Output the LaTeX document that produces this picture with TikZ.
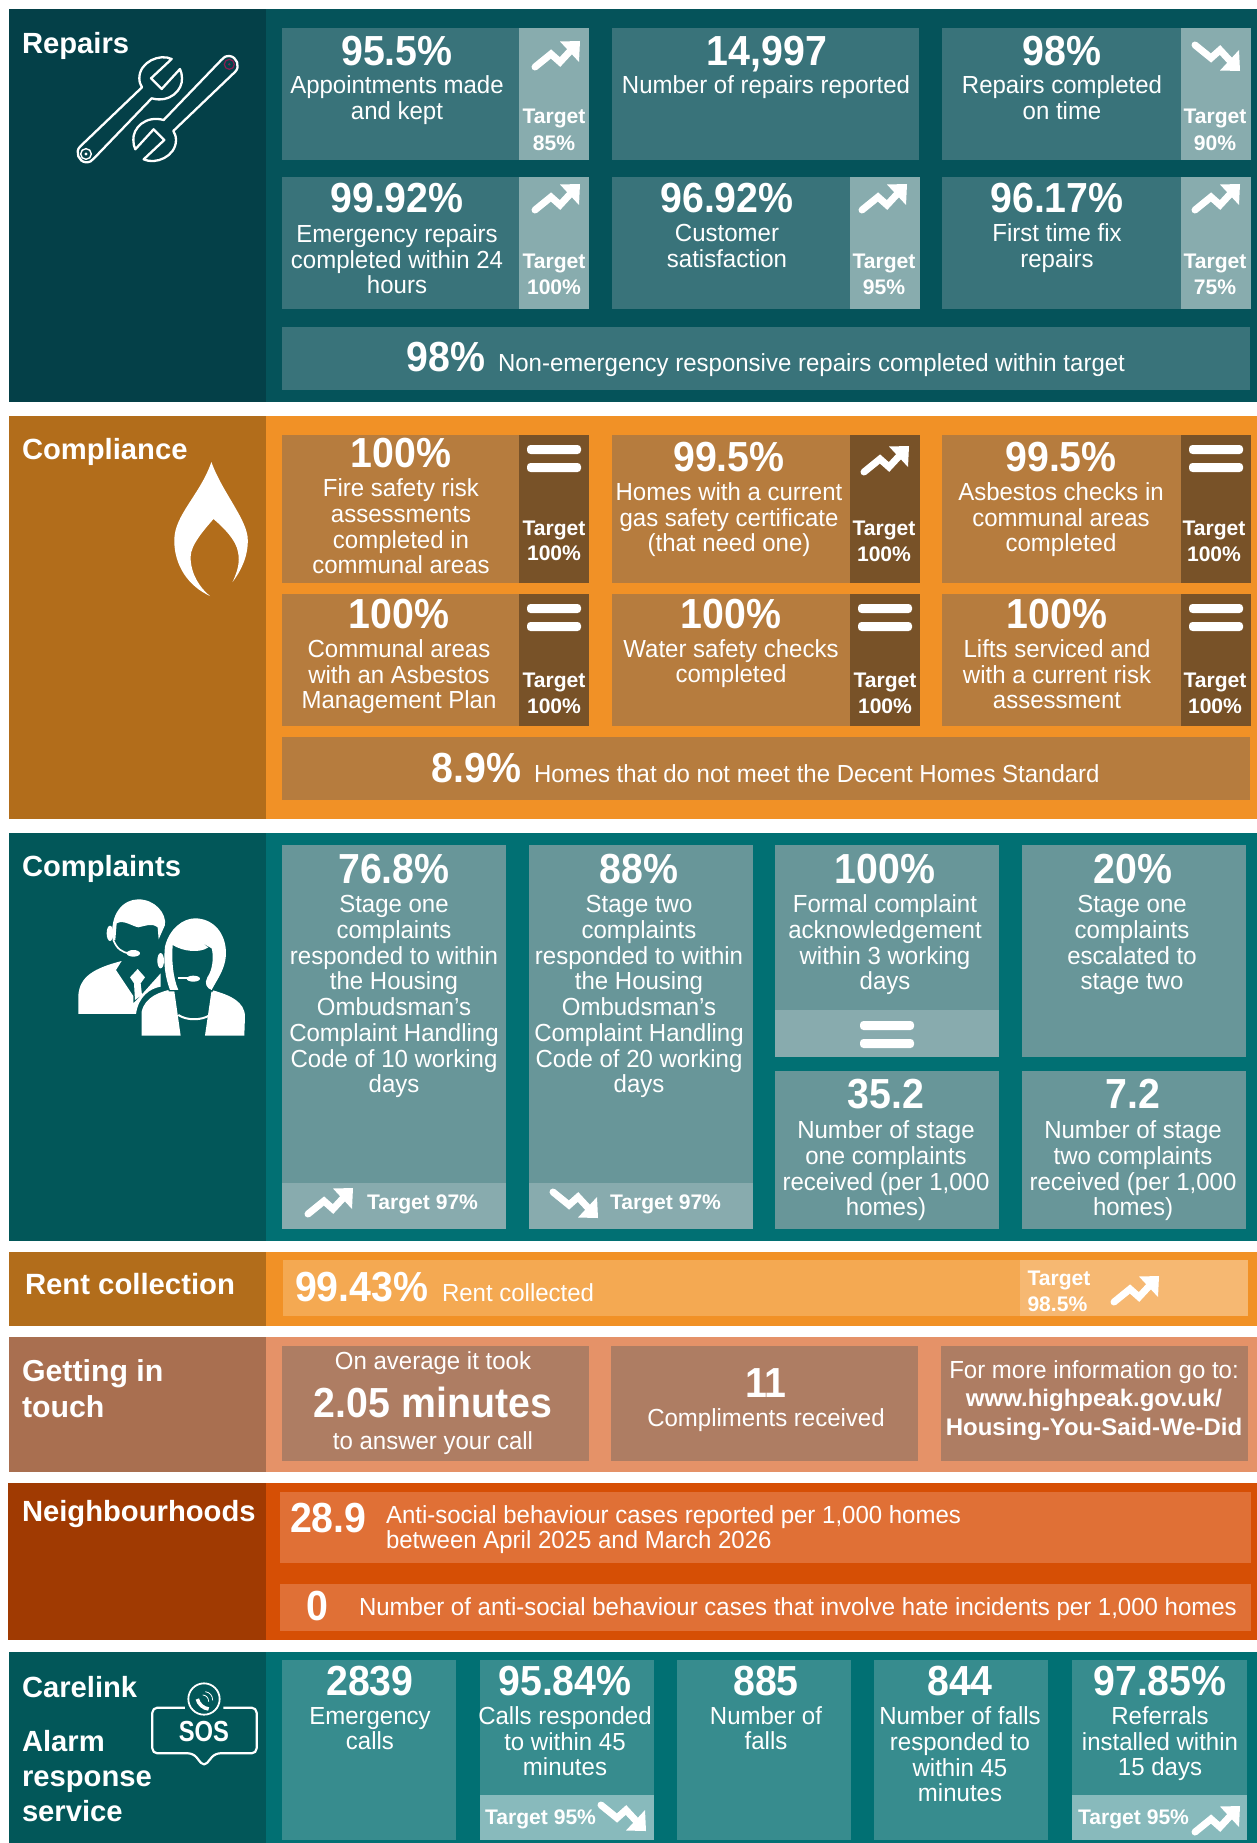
\documentclass[tikz,border=0pt]{standalone}
\usepackage{fontspec}
\setmainfont{Liberation Sans}
\definecolor{repL}{HTML}{044048}\definecolor{repR}{HTML}{05535A}\definecolor{repC}{HTML}{39737A}\definecolor{repT}{HTML}{88ACAE}
\definecolor{comL}{HTML}{B26D1B}\definecolor{comR}{HTML}{F19126}\definecolor{comC}{HTML}{B67C3E}\definecolor{comT}{HTML}{785228}
\definecolor{cplL}{HTML}{025759}\definecolor{cplR}{HTML}{017073}\definecolor{cplC}{HTML}{689699}\definecolor{cplT}{HTML}{88ABAE}
\definecolor{rntC}{HTML}{F4A952}\definecolor{rntT}{HTML}{F6B872}
\definecolor{getL}{HTML}{A96F50}\definecolor{getR}{HTML}{E59268}\definecolor{getC}{HTML}{AE7D63}
\definecolor{nbrL}{HTML}{A03A02}\definecolor{nbrR}{HTML}{D64F05}\definecolor{nbrC}{HTML}{E07036}
\definecolor{carC}{HTML}{378C8E}\definecolor{carT}{HTML}{88BABC}
\definecolor{ringP}{HTML}{8A1C50}
\newcounter{tn}
\tikzset{
  every node/.style={inner sep=0pt,outer sep=0pt,text=white},
  ctr/.style={anchor=base,align=center},
  lft/.style={anchor=base west,align=left},
  bignum/.style={font=\fontsize{39.3}{39}\selectfont\bfseries,yscale=1.07},
  bodytxt/.style={font=\fontsize{24}{24.95}\selectfont,yshift=-.7pt,yscale=1.03},
  tgt/.style={font=\fontsize{21.1}{26}\selectfont\bfseries},
  ttl/.style={font=\fontsize{29.2}{35}\selectfont\bfseries},
}
\newcommand{\tx}[4]{\stepcounter{tn}\node[#1] (t\arabic{tn}) at (#2,#3) {#4};}
\newcommand{\panel}[5][9]{\fill[#4] (#1,#2) rectangle (266,#3);\fill[#5] (266,#2) rectangle (1257,#3);}
\newcommand{\rc}[5]{\fill[#5] (#1,#2) rectangle (#3,#4);}
\newcommand{\upA}[2]{\begin{scope}[shift={(#1,#2)}]
  \draw[white,line width=7pt,line cap=round,line join=miter] (4,26)--(20,13)--(29,21)--(42,7);
  \fill[white] (29,0.5)--(49,0)--(48,21)--cycle;\end{scope}}
\newcommand{\dnA}[2]{\begin{scope}[shift={(#1,#2+30)},yscale=-1]
  \draw[white,line width=7pt,line cap=round,line join=miter] (4,26)--(20,13)--(29,21)--(42,7);
  \fill[white] (29,0.5)--(49,0)--(48,21)--cycle;\end{scope}}
\newcommand{\eqS}[2]{\fill[white,rounded corners=3.5pt] (#1,#2) rectangle ++(54,9);\fill[white,rounded corners=3.5pt] (#1,#2+18) rectangle ++(54,9);}
\newcommand{\wrenchpath}{(305,42) .. controls (270,25) and (208,50) .. (208,100) .. controls (208,112) and (212,120) .. (216,127) -- (30,305) .. controls (15,320) and (25,350) .. (48,352) .. controls (60,352) and (65,348) .. (72,340) -- (245,160) .. controls (300,175) and (338,135) .. (336,100) .. controls (336,90) and (334,80) .. (330,72) -- (275,132) -- (243,100) -- cycle}
\begin{document}
\begin{tikzpicture}[x=1pt,y=-1pt]
\useasboundingbox (0,0) rectangle (1257,1843);
%% ---------- Repairs
\panel{9}{402}{repL}{repR}
\rc{282}{28}{589}{160}{repC}\rc{519}{28}{589}{160}{repT}
\rc{612}{28}{919}{160}{repC}
\rc{942}{28}{1251}{160}{repC}\rc{1181}{28}{1251}{160}{repT}
\rc{282}{177}{589}{309}{repC}\rc{519}{177}{589}{309}{repT}
\rc{612}{177}{920}{309}{repC}\rc{850}{177}{920}{309}{repT}
\rc{942}{177}{1251}{309}{repC}\rc{1181}{177}{1251}{309}{repT}
\rc{282}{327}{1250}{390}{repC}
\tx{lft,ttl}{22}{53.5}{Repairs}
\tx{ctr,bignum}{397}{66}{95.5\%}
\tx{ctr,bodytxt}{397}{119}{Appointments made\\and kept}
\tx{ctr,tgt}{554}{151}{Target\\[1pt]85\%}\upA{531}{41}
\tx{ctr,bignum}{767}{66}{14,997}
\tx{ctr,bodytxt}{766}{93}{Number of repairs reported}
\tx{ctr,bignum}{1062}{66}{98\%}
\tx{ctr,bodytxt}{1062}{119}{Repairs completed\\on time}
\tx{ctr,tgt}{1215}{151}{Target\\[1pt]90\%}\dnA{1191}{41}
\tx{ctr,bignum}{397}{213}{99.92\%}
\tx{ctr,bodytxt}{397}{293}{Emergency repairs\\completed within 24\\hours}
\tx{ctr,tgt}{554}{295}{Target\\100\%}\upA{531}{184}
\tx{ctr,bignum}{727}{213}{96.92\%}
\tx{ctr,bodytxt}{727}{267}{Customer\\satisfaction}
\tx{ctr,tgt}{884}{295}{Target\\95\%}\upA{858}{184}
\tx{ctr,bignum}{1057}{213}{96.17\%}
\tx{ctr,bodytxt}{1057}{267}{First time fix\\repairs}
\tx{ctr,tgt}{1215}{295}{Target\\75\%}\upA{1191}{184}
\tx{ctr,bignum}{446}{371}{98\%}
\tx{lft,bodytxt}{498}{371}{Non-emergency responsive repairs completed within target}
%% wrenches
\begin{scope}[shift={(70,45)},scale=0.3333]
  \draw[white,line width=2.3pt,line join=round] \wrenchpath;
  \draw[white,line width=1.4pt] (48,327) circle (16);
  \fill[white] (48,327) circle (5);
  \begin{scope}[rotate around={180:(263,192.5)}]
    \draw[white,line width=2.3pt,line join=round] \wrenchpath;
    \draw[ringP,line width=1.2pt] (48,327) circle (15);
    \fill[ringP] (48,327) circle (4);
  \end{scope}
\end{scope}
%% ---------- Compliance
\panel{416}{819}{comL}{comR}
\rc{282}{435}{589}{583}{comC}\rc{519}{435}{589}{583}{comT}
\rc{612}{435}{920}{583}{comC}\rc{850}{435}{920}{583}{comT}
\rc{942}{435}{1251}{583}{comC}\rc{1181}{435}{1251}{583}{comT}
\rc{282}{594}{589}{726}{comC}\rc{519}{594}{589}{726}{comT}
\rc{612}{594}{920}{726}{comC}\rc{850}{594}{920}{726}{comT}
\rc{942}{594}{1251}{726}{comC}\rc{1181}{594}{1251}{726}{comT}
\rc{282}{737}{1250}{800}{comC}
\tx{lft,ttl}{22}{459}{Compliance}
\fill[white] (211.4,462) .. controls (222,492) and (247.8,520) .. (247.8,540)
  .. controls (248,558) and (240,572) .. (232.6,582)
  .. controls (238,570) and (240,562) .. (238,552)
  .. controls (236,540) and (224,528) .. (213.5,519)
  .. controls (204,530) and (190.6,545) .. (190.6,557)
  .. controls (190.6,574) and (200,588) .. (210,596)
  .. controls (188,586) and (174,565) .. (174.3,540)
  .. controls (174.3,515) and (200,495) .. (211.4,462) -- cycle;
\tx{ctr,bignum}{401}{467}{100\%}
\tx{ctr,bodytxt}{401}{573}{Fire safety risk\\assessments\\completed in\\communal areas}
\tx{ctr,tgt}{554}{560}{Target\\[-1pt]100\%}\eqS{527}{445}
\tx{ctr,bignum}{729}{471}{99.5\%}
\tx{ctr,bodytxt}{729}{551}{Homes with a current\\gas safety certificate\\(that need one)}
\tx{ctr,tgt}{884}{561}{Target\\100\%}\upA{860}{446}
\tx{ctr,bignum}{1061}{471}{99.5\%}
\tx{ctr,bodytxt}{1061}{551}{Asbestos checks in\\communal areas\\completed}
\tx{ctr,tgt}{1214}{561}{Target\\100\%}\eqS{1189}{445}
\tx{ctr,bignum}{399}{628}{100\%}
\tx{ctr,bodytxt}{399}{708}{Communal areas\\with an Asbestos\\Management Plan}
\tx{ctr,tgt}{554}{713}{Target\\100\%}\eqS{527}{604}
\tx{ctr,bignum}{731}{628}{100\%}
\tx{ctr,bodytxt}{731}{682}{Water safety checks\\completed}
\tx{ctr,tgt}{885}{713}{Target\\100\%}\eqS{858}{604}
\tx{ctr,bignum}{1057}{628}{100\%}
\tx{ctr,bodytxt}{1057}{708}{Lifts serviced and\\with a current risk\\assessment}
\tx{ctr,tgt}{1215}{713}{Target\\100\%}\eqS{1189}{604}
\tx{ctr,bignum}{476.5}{782}{8.9\%}
\tx{lft,bodytxt}{534}{782}{Homes that do not meet the Decent Homes Standard}
%% ---------- Complaints
\panel{833}{1241}{cplL}{cplR}
\rc{282}{845}{506}{1229}{cplC}\rc{282}{1183}{506}{1229}{cplT}
\rc{529}{845}{753}{1229}{cplC}\rc{529}{1183}{753}{1229}{cplT}
\rc{775}{845}{999}{1057}{cplC}\rc{775}{1010}{999}{1057}{cplT}
\rc{1022}{845}{1246}{1057}{cplC}
\rc{775}{1071}{999}{1229}{cplC}
\rc{1022}{1071}{1246}{1229}{cplC}
\tx{lft,ttl}{22}{876}{Complaints}
\tx{ctr,bignum}{394}{883}{76.8\%}
\tx{ctr,bodytxt}{394}{1092}{Stage one\\complaints\\responded to within\\the Housing\\Ombudsman’s\\Complaint Handling\\Code of 10 working\\days}
\upA{304}{1188}\tx{lft,tgt}{367}{1209}{Target 97\%}
\tx{ctr,bignum}{639}{883}{88\%}
\tx{ctr,bodytxt}{639}{1092}{Stage two\\complaints\\responded to within\\the Housing\\Ombudsman’s\\Complaint Handling\\Code of 20 working\\days}
\dnA{549}{1188}\tx{lft,tgt}{610}{1209}{Target 97\%}
\tx{ctr,bignum}{885}{883}{100\%}
\tx{ctr,bodytxt}{885}{989}{Formal complaint\\acknowledgement\\within 3 working\\days}
\eqS{860}{1021}
\tx{ctr,bignum}{1133}{883}{20\%}
\tx{ctr,bodytxt}{1132}{989}{Stage one\\complaints\\escalated to\\stage two}
\tx{ctr,bignum}{886}{1108}{35.2}
\tx{ctr,bodytxt}{886}{1215}{Number of stage\\one complaints\\received (per 1,000\\homes)}
\tx{ctr,bignum}{1133}{1108}{7.2}
\tx{ctr,bodytxt}{1133}{1215}{Number of stage\\two complaints\\received (per 1,000\\homes)}
%% people icon
\begin{scope}[shift={(70,890)},scale=0.3333]
  % man
  \fill[white] (128,150) .. controls (118,70) and (160,28) .. (205,28) .. controls (255,28) and (290,70) .. (285,105)
     -- (266,148) -- (263,112) .. controls (245,98) and (225,108) .. (205,112) .. controls (185,108) and (160,88) .. (140,100) -- (136,150) -- cycle;
  \fill[white] (120,130) ellipse (10 and 23);
  \draw[white,line width=1.7pt] (130,150) .. controls (140,175) and (155,188) .. (180,190);
  \fill[white] (190,190) ellipse (20 and 10);
  \fill[white] (25,372) -- (25,315) .. controls (30,260) and (70,235) .. (155,213) -- (138,240) -- (190,318) -- (190,340) -- (205,325) -- (272,250) -- (272,290)
     .. controls (240,295) and (205,320) .. (198,372) -- cycle;
  \fill[white] (203,237) -- (225,262) -- (212,280) -- (216,315) -- (195,330) -- (192,280) -- (180,262) -- cycle;
  % woman
  \fill[white,preaction={draw=cplL,line width=4pt}] (215,437) -- (215,365) .. controls (225,320) and (270,305) .. (312,296) -- (332,437) -- cycle;
  \fill[white] (405,437) -- (425,300) .. controls (480,315) and (525,335) .. (525,380) -- (523,437) -- cycle;
  \fill[white,preaction={draw=cplL,line width=3pt}] (300,300) .. controls (285,260) and (280,220) .. (285,170) .. controls (298,115) and (340,85) .. (375,85)
     .. controls (430,85) and (470,130) .. (468,195) .. controls (465,240) and (440,270) .. (425,300)
     .. controls (410,295) and (402,280) .. (412,262) .. controls (428,240) and (432,200) .. (425,175)
     -- (390,155) -- (415,172) .. controls (390,190) and (340,185) .. (308,165) .. controls (305,210) and (308,260) .. (325,300) -- cycle;
  \fill[white] (272,212) ellipse (10 and 23);
  \draw[white,line width=1.7pt] (325,265) -- (360,265);
  \fill[white] (370,266) ellipse (20 and 9);
  \draw[white,line width=2pt] (325,375) .. controls (350,392) and (395,392) .. (420,375);
\end{scope}
%% ---------- Rent collection
\panel{1252}{1326}{comL}{comR}
\rc{283}{1260}{1248}{1316}{rntC}\rc{1020}{1260}{1248}{1316}{rntT}
\tx{lft,font=\fontsize{29.3}{35}\selectfont\bfseries}{25}{1294}{Rent collection}
\tx{lft,bignum}{295}{1301}{99.43\%}
\tx{lft,bodytxt}{442}{1301}{Rent collected}
\tx{lft,tgt}{1027.5}{1311}{Target\\98.5\%}
\upA{1110}{1276}
%% ---------- Getting in touch
\panel{1337}{1472}{getL}{getR}
\rc{282}{1346}{589}{1461}{getC}\rc{611}{1346}{918}{1461}{getC}\rc{941}{1346}{1248}{1461}{getC}
\tx{lft,font=\fontsize{30.3}{36}\selectfont\bfseries}{22}{1417}{Getting in\\touch}
\tx{ctr,bodytxt}{433}{1369}{On average it took}
\tx{ctr,bignum}{433}{1417}{2.05 minutes}
\tx{ctr,bodytxt}{433}{1449}{to answer your call}
\tx{ctr,bignum}{766}{1397}{11}
\tx{ctr,bodytxt}{766}{1426}{Compliments received}
\tx{ctr,bodytxt}{1094}{1378}{For more information go to:}
\tx{ctr,font=\fontsize{24}{29}\selectfont\bfseries}{1094}{1435}{www.highpeak.gov.uk/\\Housing-You-Said-We-Did}
%% ---------- Neighbourhoods
\panel[8]{1483}{1640}{nbrL}{nbrR}
\rc{280}{1492}{1251}{1563}{nbrC}\rc{280}{1584}{1251}{1631}{nbrC}
\tx{lft,ttl}{22}{1521}{Neighbourhoods}
\tx{lft,bignum}{290}{1532}{28.9}
\tx{lft,bodytxt}{386}{1548}{Anti-social behaviour cases reported per 1,000 homes\\between April 2025 and March 2026}
\tx{ctr,bignum}{317}{1620}{0}
\tx{lft,bodytxt}{359}{1615}{Number of anti-social behaviour cases that involve hate incidents per 1,000 homes}
%% ---------- Carelink
\panel{1652}{1843}{cplL}{cplR}
\rc{282}{1660}{456}{1840}{carC}
\rc{480}{1660}{654}{1840}{carC}\rc{480}{1795}{654}{1840}{carT}
\rc{677}{1660}{851}{1840}{carC}
\rc{874}{1660}{1048}{1840}{carC}
\rc{1072}{1660}{1247}{1840}{carC}\rc{1072}{1795}{1247}{1840}{carT}
\tx{lft,ttl}{22}{1697}{Carelink}
\tx{lft,ttl}{22}{1821}{Alarm\\response\\service}
\tx{ctr,bignum}{370}{1695}{2839}
\tx{ctr,bodytxt}{370}{1749}{Emergency\\calls}
\tx{ctr,bignum}{565}{1695}{95.84\%}
\tx{ctr,bodytxt}{565}{1775}{Calls responded\\to within 45\\minutes}
\tx{lft,tgt}{485}{1824}{Target 95\%}\dnA{597}{1801}
\tx{ctr,bignum}{766}{1695}{885}
\tx{ctr,bodytxt}{766}{1749}{Number of\\falls}
\tx{ctr,bignum}{960}{1695}{844}
\tx{ctr,bodytxt}{960}{1801}{Number of falls\\responded to\\within 45\\minutes}
\tx{ctr,bignum}{1160}{1695}{97.85\%}
\tx{ctr,bodytxt}{1160}{1775}{Referrals\\installed within\\15 days}
\tx{lft,tgt}{1078}{1824}{Target 95\%}\upA{1191}{1806}
%% SOS icon
\begin{scope}[shift={(140,1675)},scale=0.3333]
  \draw[white,line width=2.2pt,line join=round,rounded corners=5pt] (135,98) -- (37,98) -- (37,235) -- (160,235) -- (192,275) -- (225,235) -- (350,235) -- (350,98) -- (250,98);
  \draw[white,line width=1.8pt] (192,72) circle (47);
  \draw[white,line width=3.6pt] (172,72) .. controls (176,88) and (190,100) .. (206,102);
  \draw[white,line width=.8pt] (188,60) .. controls (198,60) and (206,68) .. (206,80);
  \draw[white,line width=.8pt] (196,50) .. controls (210,52) and (218,62) .. (218,76);
  \tx{ctr,font=\fontsize{29}{29}\selectfont\bfseries,xscale=.82}{192}{200}{SOS}
\end{scope}
\end{tikzpicture}
\end{document}
